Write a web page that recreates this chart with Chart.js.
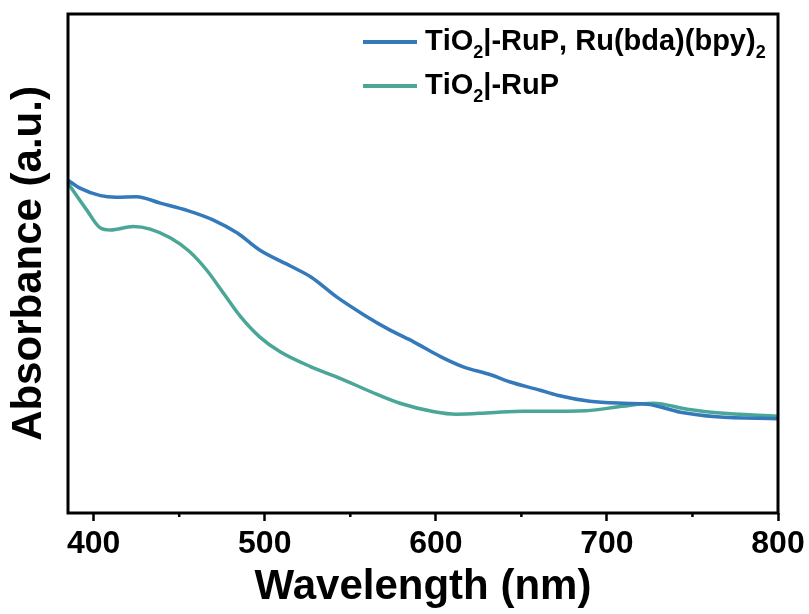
<!DOCTYPE html>
<html lang="en">

<head>
    <meta charset="UTF-8">
    <title>Absorbance spectra</title>
    <script src="https://cdn.jsdelivr.net/npm/chart.js"></script>
    <style>
        html, body { margin: 0; padding: 0; background: #fff; }
        #wrap { width: 809px; height: 614px; }
    </style>
</head>

<body>
    <div id="wrap"><canvas id="absChart"></canvas></div>

    <script>
        // x axis ticks (major every 100, minor in between)
        const tickValues = [400, 450, 500, 550, 600, 650, 700, 750, 800];

        // TiO2|-RuP, Ru(bda)(bpy)2
        const wlBda = [385, 392, 404, 413, 425, 439, 455, 470, 484, 497, 515, 527, 542, 558, 573, 587, 603, 616, 632, 643, 661, 671, 690, 709, 724, 743, 764, 800];
        const absBda = [0.667, 0.651, 0.636, 0.633, 0.634, 0.621, 0.606, 0.587, 0.561, 0.527, 0.495, 0.473, 0.433, 0.397, 0.367, 0.343, 0.313, 0.293, 0.277, 0.263, 0.246, 0.236, 0.224, 0.220, 0.218, 0.202, 0.193, 0.189];

        // TiO2|-RuP
        const wlRuP = [385, 396, 404, 410, 423, 433, 445, 456, 466, 476, 486, 497, 509, 527, 544, 562, 579, 599, 612, 632, 651, 661, 688, 709, 727, 747, 764, 800];
        const absRuP = [0.661, 0.607, 0.571, 0.567, 0.574, 0.569, 0.551, 0.524, 0.487, 0.440, 0.393, 0.353, 0.323, 0.293, 0.270, 0.243, 0.220, 0.203, 0.198, 0.201, 0.204, 0.204, 0.205, 0.214, 0.220, 0.208, 0.201, 0.194];

        const seriesLabels = ['TiO₂|-RuP, Ru(bda)(bpy)₂', 'TiO₂|-RuP'];
        const seriesColors = ['#3479ba', '#4aa697'];

        const FONT = "'Liberation Sans', Arial, sans-serif";

        function toPoints(xs, ys) {
            return xs.map((x, i) => ({ x: x, y: ys[i] }));
        }

        // frame around the plot + short minor ticks
        const framePlugin = {
            id: 'frame',
            afterDraw(chart) {
                const { ctx, chartArea } = chart;
                const xs = chart.scales.x;
                ctx.save();
                ctx.strokeStyle = '#000';
                ctx.lineWidth = 3;
                ctx.strokeRect(chartArea.left, chartArea.top, chartArea.right - chartArea.left, chartArea.bottom - chartArea.top);
                ctx.lineWidth = 2.5;
                tickValues.filter(v => v % 100 !== 0).forEach(v => {
                    const px = xs.getPixelForValue(v);
                    ctx.beginPath();
                    ctx.moveTo(px, chartArea.bottom);
                    ctx.lineTo(px, chartArea.bottom + 4);
                    ctx.stroke();
                });
                ctx.restore();
            }
        };

        // legend with subscripts drawn as smaller, lowered digits
        const legendPlugin = {
            id: 'subLegend',
            afterDraw(chart) {
                const { ctx } = chart;
                const size = 29;
                const lineX0 = 363, lineX1 = 417, textX = 425;
                const rows = [42, 86];
                ctx.save();
                chart.data.datasets.forEach((ds, i) => {
                    const y = rows[i];
                    ctx.strokeStyle = ds.borderColor;
                    ctx.lineWidth = 4;
                    ctx.beginPath();
                    ctx.moveTo(lineX0, y);
                    ctx.lineTo(lineX1, y);
                    ctx.stroke();

                    let x = textX;
                    ctx.fillStyle = '#000';
                    ctx.textBaseline = 'middle';
                    for (const ch of ds.label) {
                        if (ch === '₂') {
                            ctx.font = 'bold ' + Math.round(size * 0.62) + 'px ' + FONT;
                            ctx.fillText('2', x, y + 11);
                            x += ctx.measureText('2').width;
                        } else {
                            ctx.font = 'bold ' + size + 'px ' + FONT;
                            ctx.fillText(ch, x, y);
                            x += ctx.measureText(ch).width;
                        }
                    }
                });
                ctx.restore();
            }
        };

        const ctx = document.getElementById('absChart').getContext('2d');
        new Chart(ctx, {
            type: 'line',
            data: {
                datasets: [{
                    label: seriesLabels[0],
                    data: toPoints(wlBda, absBda),
                    borderColor: seriesColors[0],
                    borderWidth: 3.5,
                    pointRadius: 0,
                    cubicInterpolationMode: 'monotone',
                    fill: false
                }, {
                    label: seriesLabels[1],
                    data: toPoints(wlRuP, absRuP),
                    borderColor: seriesColors[1],
                    borderWidth: 3.5,
                    pointRadius: 0,
                    cubicInterpolationMode: 'monotone',
                    fill: false
                }]
            },
            options: {
                responsive: true,
                maintainAspectRatio: false,
                animation: false,
                layout: { padding: { top: 14, right: 31, left: 0, bottom: 0 } },
                plugins: {
                    legend: { display: false },
                    tooltip: { enabled: false }
                },
                scales: {
                    x: {
                        type: 'linear',
                        min: 385,
                        max: 800,
                        afterBuildTicks: s => { s.ticks = tickValues.map(v => ({ value: v })); },
                        afterFit: s => { s.height = 101; },
                        border: { display: false },
                        grid: {
                            drawOnChartArea: false,
                            drawTicks: true,
                            tickLength: 8,
                            tickWidth: 2.5,
                            tickColor: c => (c.tick && c.tick.value % 100 === 0) ? '#000' : 'rgba(0,0,0,0)'
                        },
                        ticks: {
                            autoSkip: false,
                            maxRotation: 0,
                            padding: 4,
                            color: '#000',
                            font: { family: FONT, size: 32, weight: 'bold' },
                            callback: v => v % 100 === 0 ? v : ''
                        },
                        title: {
                            display: true,
                            text: 'Wavelength (nm)',
                            color: '#000',
                            font: { family: FONT, size: 42, weight: 'bold' },
                            padding: { top: 0, bottom: 1 }
                        }
                    },
                    y: {
                        min: 0,
                        max: 1,
                        afterFit: s => { s.width = 68; },
                        border: { display: false },
                        grid: { display: false },
                        ticks: { display: false },
                        title: {
                            display: true,
                            text: 'Absorbance (a.u.)',
                            color: '#000',
                            font: { family: FONT, size: 42, weight: 'bold' },
                            padding: { top: 4, bottom: 0 }
                        }
                    }
                }
            },
            plugins: [framePlugin, legendPlugin]
        });
    </script>
</body>

</html>
